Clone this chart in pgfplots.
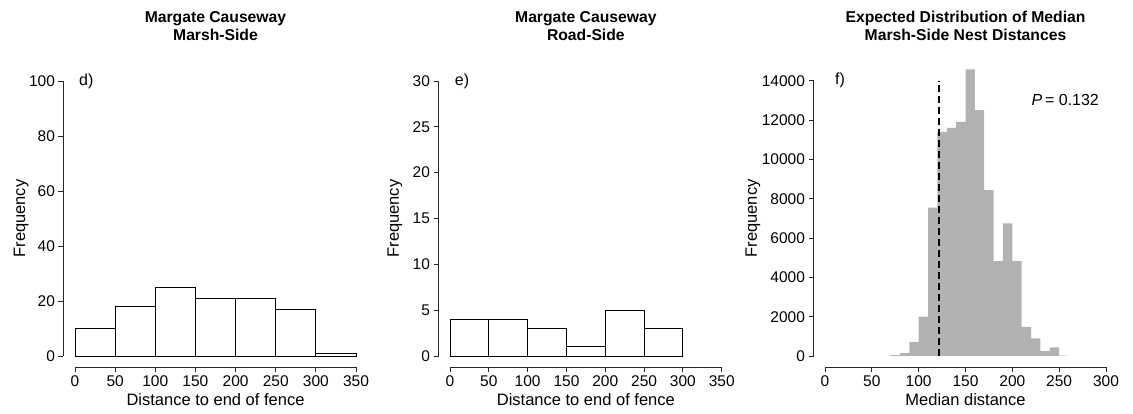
\documentclass[border=0pt]{standalone}
\usepackage{pgfplots}
\pgfplotsset{compat=1.18}
\usepackage{fontspec}
\setmainfont{Liberation Sans}
\begin{document}
\begin{tikzpicture}
\useasboundingbox (0pt,0pt) rectangle (1133pt,414pt);
\pgfplotsset{
 myaxis/.style={
  scale only axis, anchor=south west,
  axis lines=left, axis line style={-, line width=0.9pt, black!85},
  axis x line shift=11pt, axis y line shift=11.5pt,
  tick align=outside, major tick length=5pt, tick style={line width=0.9pt, black!85},
  ymin=0, xmin=0, clip=false,
  ticklabel style={font=\fontsize{15.5}{17}\selectfont},
  label style={font=\fontsize{16.5}{18}\selectfont},
  /pgf/number format/assume math mode=true,
  /pgf/number format/set thousands separator={},
  scaled ticks=false,
  title style={font=\fontsize{15.7}{18.5}\selectfont\bfseries, align=center, at={(axis description cs:0.5,1.178)}, anchor=center},
  xlabel style={at={(axis description cs:0.5,-0.16)}, anchor=center},
 }
}
% Panel d
\begin{axis}[myaxis, at={(75pt,58pt)}, width=281pt, height=275pt,
  xmax=350, ymax=100, xtick={0,50,...,350}, ytick={0,20,...,100},
  title={Margate Causeway\\Marsh-Side},
  xlabel={Distance to end of fence}, ylabel={Frequency},
  ylabel style={at={(axis description cs:-0.192,0.5)}, anchor=center}]
\addplot[ybar interval, fill=white, draw=black, line width=0.9pt] coordinates {(0,10) (50,18) (100,25) (150,21) (200,21) (250,17) (300,1) (350,1)};
\node[anchor=west, inner sep=0pt, font=\fontsize{16}{18}\selectfont] at (axis cs:5,100) {d)};
\end{axis}
% Panel e
\begin{axis}[myaxis, at={(450pt,58pt)}, width=271.7pt, height=275pt,
  xmax=350, ymax=30, xtick={0,50,...,350}, ytick={0,5,...,30},
  title={Margate Causeway\\Road-Side},
  xlabel={Distance to end of fence}, ylabel={Frequency},
  ylabel style={at={(axis description cs:-0.2024,0.5)}, anchor=center}]
\addplot[ybar interval, fill=white, draw=black, line width=0.9pt] coordinates {(0,4) (50,4) (100,3) (150,1) (200,5) (250,3) (300,3)};
\node[anchor=west, inner sep=0pt, font=\fontsize{16}{18}\selectfont] at (axis cs:6,30) {e)};
\end{axis}
% Panel f
\begin{axis}[myaxis, at={(825pt,58pt)}, width=281pt, height=275.3pt,
  xmax=300, ymax=14000, xtick={0,50,...,300}, ytick={0,2000,...,14000},
  title={Expected Distribution of Median\\Marsh-Side Nest Distances},
  xlabel={Median distance}, ylabel={Frequency},
  ylabel style={at={(axis description cs:-0.257,0.5)}, anchor=center}]
\addplot[ybar interval, fill=black!30, draw=none] coordinates {(70,50) (80,150) (90,700) (100,2000) (110,7550) (120,11400) (130,11600) (140,11900) (150,14580) (160,12500) (170,8430) (180,4830) (190,6750) (200,4830) (210,1480) (220,900) (230,250) (240,440) (250,20) (260,20)};
\addplot[black, line width=1.3pt, dash pattern=on 7pt off 4pt] coordinates {(121.7,0) (121.7,14000)};
\node[anchor=west, inner sep=0pt, font=\fontsize{16}{18}\selectfont] at (axis cs:10.7,14000) {f)};
\node[anchor=west, inner sep=0pt, font=\fontsize{16}{18}\selectfont] at (axis cs:220.5,13000) {\textit{P}\,= 0.132};
\end{axis}
\end{tikzpicture}
\end{document}
